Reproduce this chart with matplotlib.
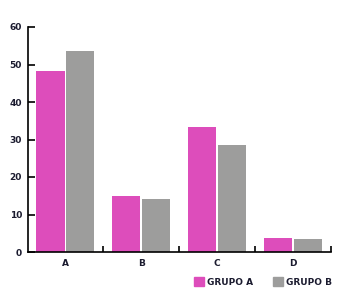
import matplotlib
matplotlib.use("Agg")
import matplotlib.pyplot as plt
from matplotlib.patches import Patch
import numpy as np

# data
categories = ["A", "B", "C", "D"]
grupo_a = [48.3, 14.9, 33.3, 3.7]
grupo_b = [53.6, 14.1, 28.5, 3.5]
yticks = [0, 10, 20, 30, 40, 50, 60]

pink = "#dd4dbb"
gray = "#9d9d9c"
txt = "#1b1b2f"

plt.rcParams["font.family"] = ["DejaVu Sans"]

W, H = 349, 297
fig = plt.figure(figsize=(W/100, H/100), dpi=100)
ax = fig.add_axes([27.5/W, 1-252/H, (331-27.5)/W, (252-27)/H])

x = np.arange(len(categories))
w = 0.37
ax.bar(x-0.197, grupo_a, w, color=pink)
ax.bar(x+0.197, grupo_b, w, color=gray)

ax.set_xlim(-0.5, 3.5)
ax.set_ylim(0, 60)
for s in ["top", "right"]:
    ax.spines[s].set_visible(False)
for s in ["left", "bottom"]:
    ax.spines[s].set_linewidth(1.2)
    ax.spines[s].set_color("black")

ax.set_yticks(yticks)
ax.set_yticklabels([str(v) for v in yticks])
ax.tick_params(axis="y", direction="in", length=5, width=1.2, pad=4,
               labelsize=6.5, labelcolor=txt)
ax.set_xticks(x)
ax.set_xticklabels(categories)
ax.tick_params(axis="x", length=0, pad=5, labelsize=6.5, labelcolor=txt)
ax.set_xticks(x + 0.5, minor=True)
ax.tick_params(axis="x", which="minor", direction="in", length=4.5, width=1.2)
for lab in ax.get_xticklabels() + ax.get_yticklabels():
    lab.set_fontweight("bold")

handles = [Patch(color=pink, label="GRUPO A"), Patch(color=gray, label="GRUPO B")]
leg = fig.legend(handles=handles, loc="center left",
                 bbox_to_anchor=(186/W, 1-282/H), ncol=2, frameon=False,
                 handlelength=1.1, handleheight=1.1, handletextpad=0.35,
                 columnspacing=2.2, fontsize=6.5)
for t in leg.get_texts():
    t.set_color(txt)
    t.set_fontweight("bold")

fig.savefig("out.png", dpi=100)
